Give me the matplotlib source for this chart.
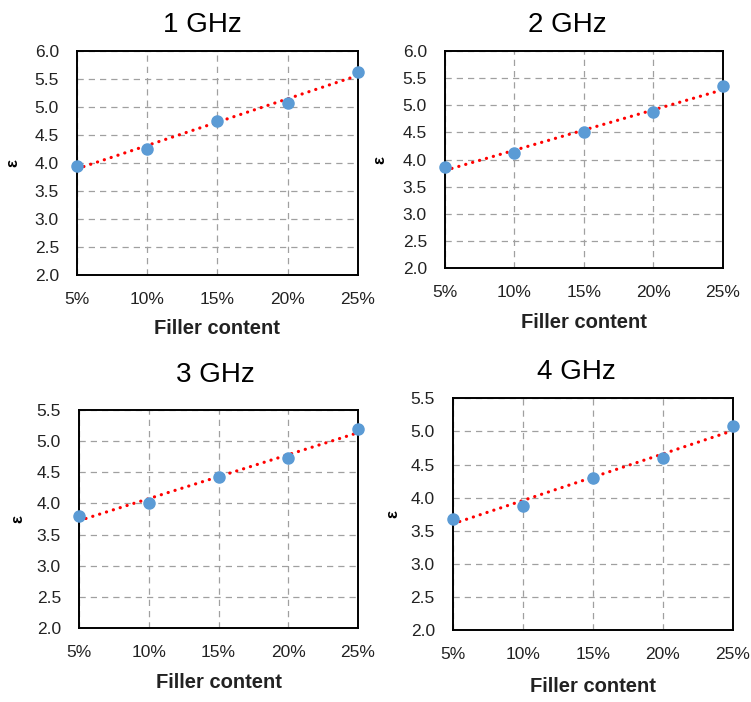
import numpy as np
import matplotlib
matplotlib.use("Agg")
import matplotlib.pyplot as plt

plt.rcParams['font.family'] = ['Liberation Sans', 'DejaVu Sans']

filler = [5, 10, 15, 20, 25]
filler_labels = ['5%', '10%', '15%', '20%', '25%']
titles = ['1 GHz', '2 GHz', '3 GHz', '4 GHz']
eps_1ghz = [3.95, 4.25, 4.75, 5.08, 5.62]
eps_2ghz = [3.87, 4.12, 4.50, 4.88, 5.35]
eps_3ghz = [3.80, 4.00, 4.42, 4.73, 5.20]
eps_4ghz = [3.68, 3.88, 4.30, 4.60, 5.08]
y_tops = [6.0, 6.0, 5.5, 5.5]

series = [eps_1ghz, eps_2ghz, eps_3ghz, eps_4ghz]

# panel placement (figure fractions)
rects = [
    [0.1025, 0.6083, 0.374, 0.319],
    [0.5925, 0.6182, 0.370, 0.309],
    [0.1052, 0.1054, 0.3715, 0.3105],
    [0.603, 0.1026, 0.3728, 0.330],
]
title_x = [0.448, 0.442, 0.487, 0.44]
title_pad = [14, 14, 20, 14]
ylab_x = [-0.228, -0.234, -0.22, -0.214]
xlab_y = [-0.237, -0.249, -0.252, -0.246]

fig = plt.figure(figsize=(7.51, 7.02), dpi=100)

for i in range(4):
    ax = fig.add_axes(rects[i])
    y = series[i]
    x = np.array(filler, dtype=float)

    # linear trend line like Excel's
    k, b = np.polyfit(x, y, 1)
    ax.plot(x, k * x + b, color='#FF0000', linestyle=(0, (0.05, 2.2)), lw=2.3,
            dash_capstyle='round', zorder=3)
    ax.plot(x, y, 'o', color='#5B9BD5', ms=8, mec='#5B9BD5', zorder=4, clip_on=False)

    ax.set_xlim(5, 25)
    ax.set_ylim(2.0, y_tops[i])
    ax.set_xticks(filler)
    ax.set_xticklabels(filler_labels)
    ax.set_yticks(np.arange(2.0, y_tops[i] + 0.01, 0.5))
    ax.set_yticklabels(['%.1f' % v for v in np.arange(2.0, y_tops[i] + 0.01, 0.5)])
    ax.tick_params(axis='both', length=0, labelsize=12.5, colors='#222222')
    ax.tick_params(axis='x', pad=12)
    ax.tick_params(axis='y', pad=13)

    ax.grid(True, color='#A0A0A0', linestyle=(0, (5, 4)), lw=0.9)
    ax.set_axisbelow(True)
    for sp in ax.spines.values():
        sp.set_color('black')
        sp.set_linewidth(1.4)

    ax.set_title(titles[i], fontsize=20, x=title_x[i], pad=title_pad[i])
    ax.set_xlabel('Filler content', fontsize=14.5, fontweight='bold', color='#222222', va='center')
    ax.xaxis.set_label_coords(0.5, xlab_y[i])
    ax.set_ylabel('ε', fontsize=12, fontweight='bold', va='center')
    ax.yaxis.set_label_coords(ylab_x[i], 0.5)

fig.savefig('out.png', dpi=100)
